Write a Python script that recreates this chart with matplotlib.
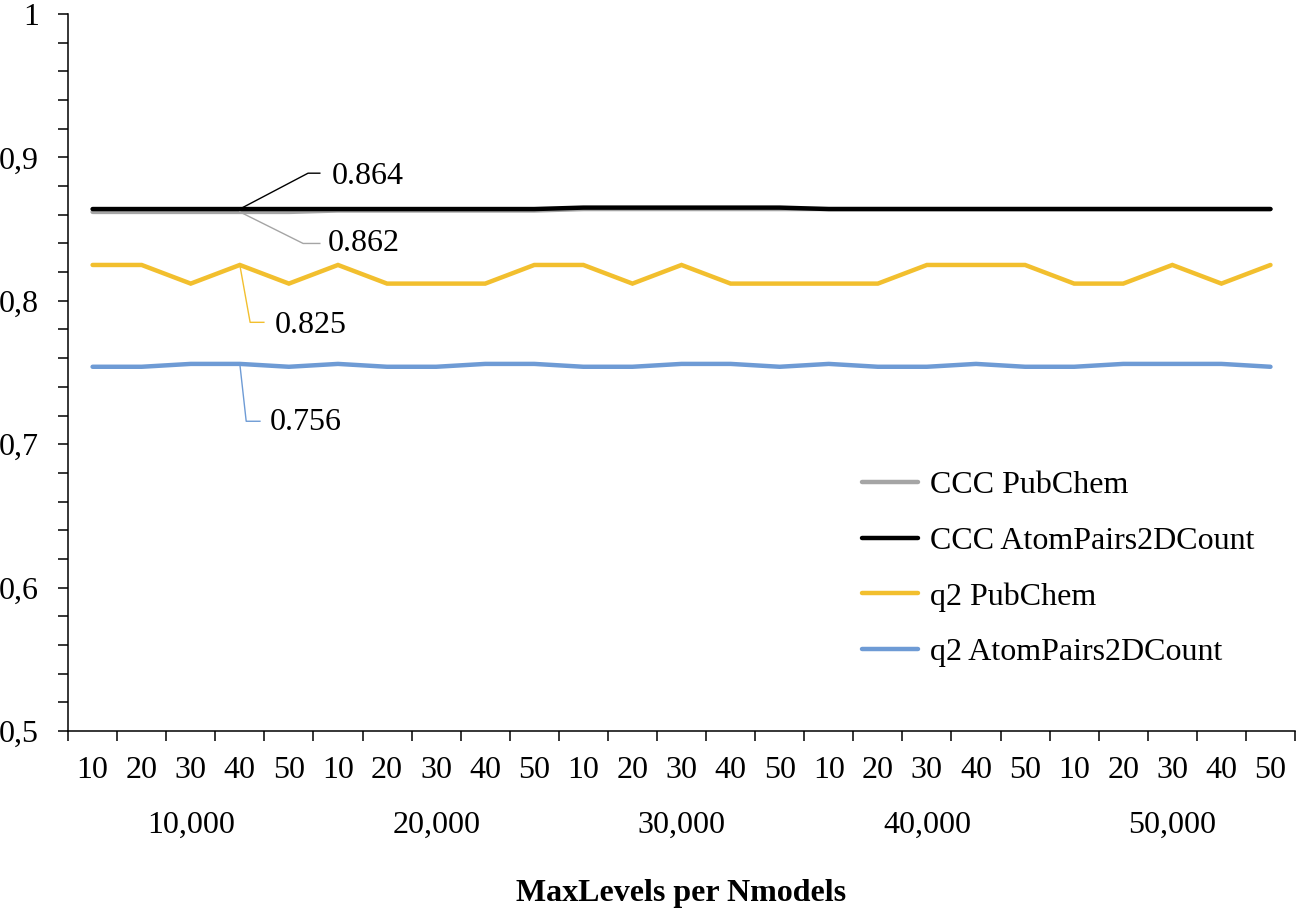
import matplotlib
matplotlib.use("Agg")
import matplotlib.pyplot as plt
import matplotlib.transforms as mtransforms
from matplotlib.ticker import FixedLocator, MultipleLocator, FuncFormatter

# =========================
# data
# =========================
maxlevels = ["10", "20", "30", "40", "50"] * 5
nmodels = ["10,000", "20,000", "30,000", "40,000", "50,000"]

ccc_pubchem = [0.862, 0.862, 0.862, 0.862, 0.862, 0.863, 0.863, 0.863, 0.863, 0.863,
               0.864, 0.864, 0.864, 0.864, 0.864, 0.864, 0.864, 0.864, 0.864, 0.864,
               0.864, 0.864, 0.864, 0.864, 0.864]
ccc_atompairs = [0.864, 0.864, 0.864, 0.864, 0.864, 0.864, 0.864, 0.864, 0.864, 0.864,
                 0.865, 0.865, 0.865, 0.865, 0.865, 0.864, 0.864, 0.864, 0.864, 0.864,
                 0.864, 0.864, 0.864, 0.864, 0.864]
q2_pubchem = [0.825, 0.825, 0.812, 0.825, 0.812, 0.825, 0.812, 0.812, 0.812, 0.825,
              0.825, 0.812, 0.825, 0.812, 0.812, 0.812, 0.812, 0.825, 0.825, 0.825,
              0.812, 0.812, 0.825, 0.812, 0.825]
q2_atompairs = [0.754, 0.754, 0.756, 0.756, 0.754, 0.756, 0.754, 0.754, 0.756, 0.756,
                0.754, 0.754, 0.756, 0.756, 0.754, 0.756, 0.754, 0.754, 0.756, 0.754,
                0.754, 0.756, 0.756, 0.756, 0.754]

series = [
    ("CCC PubChem", ccc_pubchem, "#A5A5A5"),
    ("CCC AtomPairs2DCount", ccc_atompairs, "#000000"),
    ("q2 PubChem", q2_pubchem, "#F2BF2E"),
    ("q2 AtomPairs2DCount", q2_atompairs, "#6E9BD5"),
]

# label point index and label offsets (elbow dx, dy, end dx, text dx, dy) in data units
label_idx = 3
label_style = {
    "CCC PubChem": (1.29, -0.022, 1.63, 1.80, -0.022),
    "CCC AtomPairs2DCount": (1.39, 0.025, 1.63, 1.88, 0.023),
    "q2 PubChem": (0.21, -0.040, 0.49, 0.72, -0.042),
    "q2 AtomPairs2DCount": (0.13, -0.040, 0.41, 0.62, -0.041),
}

# =========================
# plot
# =========================
plt.rcParams["font.family"] = ["Liberation Serif", "DejaVu Serif"]
plt.rcParams["font.size"] = 23

fig = plt.figure(figsize=(13.01, 9.11), dpi=100)
ax = fig.add_axes([0.0523, 0.1976, 0.9431, 0.787])

x = list(range(len(maxlevels)))
for name, vals, color in series:
    ax.plot(x, vals, color=color, linewidth=3.2, label=name,
            solid_capstyle="round", solid_joinstyle="miter")

for name, vals, color in series:
    ex, ey, hx, tx, ty = label_style[name]
    x0 = label_idx
    y0 = vals[label_idx]
    ax.plot([x0, x0 + ex, x0 + hx], [y0, y0 + ey, y0 + ey],
            color=color, linewidth=1.0)
    ax.text(x0 + tx, y0 + ty, f"{y0:.3f}", ha="left", va="center")

ax.set_xlim(-0.5, len(x) - 0.5)
ax.set_ylim(0.5, 1.0)

# y axis
ax.yaxis.set_major_locator(MultipleLocator(0.1))
ax.yaxis.set_minor_locator(MultipleLocator(0.02))
ax.yaxis.set_major_formatter(FuncFormatter(
    lambda v, p: "1" if abs(v - 1) < 1e-9 else f"{v:.1f}".replace(".", ",")))
ax.tick_params(axis="y", which="both", direction="out", length=7, width=1.1, pad=14)

# x axis: ticks at boundaries, labels at centers
ax.xaxis.set_major_locator(FixedLocator([i - 0.5 for i in range(len(x) + 1)]))
ax.xaxis.set_minor_locator(FixedLocator(x))
ax.xaxis.set_major_formatter(FuncFormatter(lambda v, p: ""))
ax.xaxis.set_minor_formatter(FuncFormatter(lambda v, p: maxlevels[int(round(v))]))
ax.tick_params(axis="x", which="major", direction="out", length=7, width=1.1)
ax.tick_params(axis="x", which="minor", length=0, pad=18)

trans = mtransforms.blended_transform_factory(ax.transData, ax.transAxes)
for g, label in enumerate(nmodels):
    ax.text(g * 5 + 2, -0.131, label, transform=trans, ha="center", va="center")

ax.text(0.5 * (len(x) - 1), -0.226, "MaxLevels per Nmodels", transform=trans,
        ha="center", va="center", fontweight="bold")

for side in ["top", "right"]:
    ax.spines[side].set_visible(False)
for side in ["left", "bottom"]:
    ax.spines[side].set_linewidth(1.1)

ax.legend(loc="upper left", bbox_to_anchor=(0.647, 0.3626), frameon=False,
          handlelength=1.75, handletextpad=0.38, labelspacing=0.82,
          borderpad=0, borderaxespad=0)

fig.savefig("out.png", dpi=100)
